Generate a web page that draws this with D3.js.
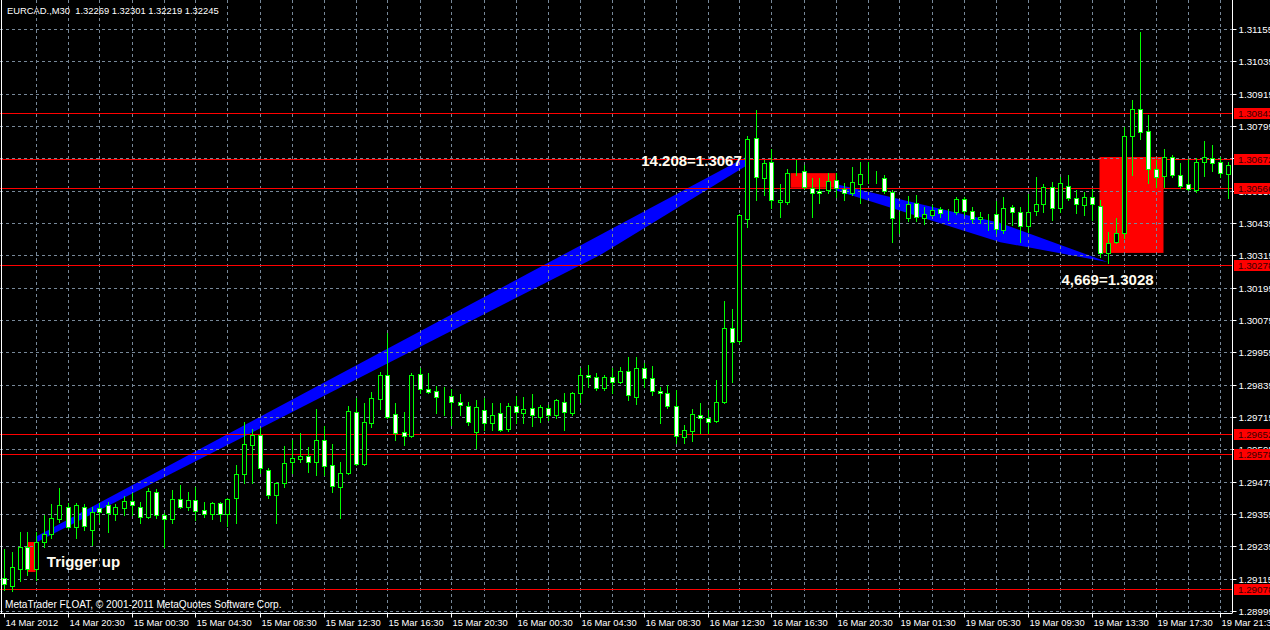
<!DOCTYPE html>
<html><head><meta charset="utf-8">
<script src="https://cdn.jsdelivr.net/npm/d3@7"></script>
<style>html,body{margin:0;padding:0;background:#000;overflow:hidden}</style>
</head><body>
<svg id="c" width="1270" height="630"></svg>
<script>
const symbolInfo = "EURCAD.,M30  1.32269 1.32301 1.32219 1.32245";
const copyright = "MetaTrader FLOAT, \u00A9 2001-2011 MetaQuotes Software Corp.";

const opens = [1.29117,1.29088,1.29151,1.29232,1.29151,1.29251,1.29281,1.29336,1.29381,1.29307,
1.29381,1.29295,1.29377,1.29388,1.29355,1.29377,1.29403,1.29381,1.29344,1.29436,
1.29351,1.29336,1.29411,1.29381,1.29407,1.29370,1.29355,1.29396,1.29355,1.29414,
1.29503,1.29611,1.29648,1.29518,1.29425,1.29470,1.29548,1.29559,1.29570,1.29548,
1.29629,1.29537,1.29455,1.29507,1.29733,1.29540,1.29693,1.29782,1.29871,1.29726,
1.29659,1.29644,1.29874,1.29819,1.29811,1.29795,1.29793,1.29771,1.29756,1.29659,
1.29741,1.29693,1.29730,1.29670,1.29756,1.29730,1.29748,1.29715,1.29748,1.29722,
1.29771,1.29730,1.29804,1.29871,1.29863,1.29823,1.29863,1.29845,1.29886,1.29789,
1.29897,1.29860,1.29811,1.29804,1.29756,1.29641,1.29663,1.29722,1.29711,1.29700,
1.29771,1.30045,1.29997,1.30450,1.30750,1.30602,1.30661,1.30513,1.30513,1.30621,
1.30628,1.30565,1.30554,1.30557,1.30595,1.30561,1.30546,1.30580,1.30609,1.30613,
1.30602,1.30550,1.30453,1.30453,1.30509,1.30453,1.30465,1.30487,1.30472,1.30476,
1.30524,1.30479,1.30450,1.30461,1.30468,1.30409,1.30494,1.30476,1.30424,1.30479,
1.30505,1.30569,1.30491,1.30572,1.30528,1.30502,1.30531,1.30498,1.30324,1.30364,
1.30398,1.30758,1.30858,1.30776,1.30635,1.30609,1.30680,1.30613,1.30580,1.30557,
1.30661,1.30676,1.30661,1.30617];
const highs = [1.29225,1.29214,1.29288,1.29288,1.29288,1.29351,1.29392,1.29451,1.29396,1.29396,
1.29392,1.29381,1.29396,1.29399,1.29392,1.29422,1.29433,1.29399,1.29451,1.29448,
1.29359,1.29444,1.29462,1.29436,1.29455,1.29399,1.29399,1.29399,1.29414,1.29537,
1.29696,1.29670,1.29674,1.29526,1.29474,1.29607,1.29629,1.29655,1.29604,1.29745,
1.29681,1.29615,1.29548,1.29756,1.29785,1.29767,1.29808,1.29882,1.30027,1.29767,
1.29733,1.29878,1.29897,1.29878,1.29830,1.29826,1.29819,1.29800,1.29771,1.29778,
1.29785,1.29767,1.29767,1.29767,1.29793,1.29789,1.29800,1.29759,1.29759,1.29782,
1.29804,1.29808,1.29897,1.29908,1.29878,1.29871,1.29897,1.29900,1.29938,1.29938,
1.29915,1.29904,1.29826,1.29834,1.29815,1.29685,1.29745,1.29767,1.29741,1.29852,
1.30145,1.30116,1.30468,1.30758,1.30854,1.30669,1.30710,1.30580,1.30635,1.30669,
1.30650,1.30602,1.30602,1.30621,1.30621,1.30583,1.30643,1.30661,1.30661,1.30628,
1.30613,1.30557,1.30476,1.30535,1.30539,1.30494,1.30502,1.30494,1.30487,1.30531,
1.30531,1.30494,1.30476,1.30468,1.30517,1.30531,1.30502,1.30494,1.30543,1.30606,
1.30580,1.30587,1.30606,1.30613,1.30557,1.30550,1.30561,1.30520,1.30402,1.30453,
1.30791,1.30891,1.31144,1.30836,1.30669,1.30710,1.30687,1.30658,1.30672,1.30676,
1.30739,1.30724,1.30680,1.30661];
const lows = [1.29073,1.29069,1.29106,1.29128,1.29110,1.29232,1.29266,1.29325,1.29303,1.29266,
1.29295,1.29240,1.29325,1.29288,1.29333,1.29351,1.29351,1.29321,1.29340,1.29340,
1.29232,1.29321,1.29377,1.29370,1.29333,1.29344,1.29336,1.29329,1.29310,1.29321,
1.29470,1.29470,1.29507,1.29414,1.29321,1.29455,1.29507,1.29548,1.29511,1.29500,
1.29500,1.29436,1.29340,1.29503,1.29537,1.29537,1.29678,1.29745,1.29711,1.29629,
1.29611,1.29641,1.29804,1.29804,1.29730,1.29722,1.29685,1.29722,1.29685,1.29600,
1.29667,1.29667,1.29663,1.29663,1.29693,1.29693,1.29681,1.29696,1.29704,1.29711,
1.29667,1.29722,1.29771,1.29826,1.29815,1.29815,1.29804,1.29841,1.29778,1.29763,
1.29826,1.29797,1.29693,1.29748,1.29618,1.29618,1.29626,1.29655,1.29655,1.29696,
1.29768,1.29845,1.29990,1.30420,1.30520,1.30539,1.30491,1.30457,1.30505,1.30613,
1.30561,1.30457,1.30509,1.30546,1.30531,1.30520,1.30539,1.30509,1.30583,1.30583,
1.30546,1.30364,1.30398,1.30442,1.30442,1.30431,1.30461,1.30457,1.30446,1.30468,
1.30465,1.30439,1.30435,1.30409,1.30398,1.30398,1.30428,1.30364,1.30402,1.30465,
1.30476,1.30446,1.30476,1.30520,1.30472,1.30465,1.30446,1.30309,1.30286,1.30361,
1.30379,1.30613,1.30747,1.30583,1.30569,1.30569,1.30606,1.30565,1.30557,1.30550,
1.30609,1.30628,1.30606,1.30528];
const closes = [1.29095,1.29158,1.29232,1.29151,1.29251,1.29281,1.29340,1.29388,1.29307,1.29388,
1.29310,1.29362,1.29362,1.29359,1.29381,1.29403,1.29388,1.29344,1.29440,1.29351,
1.29336,1.29411,1.29381,1.29407,1.29366,1.29355,1.29396,1.29355,1.29411,1.29503,
1.29615,1.29648,1.29526,1.29425,1.29470,1.29544,1.29563,1.29570,1.29548,1.29629,
1.29533,1.29459,1.29507,1.29737,1.29540,1.29696,1.29785,1.29871,1.29715,1.29655,
1.29644,1.29871,1.29819,1.29808,1.29789,1.29795,1.29771,1.29759,1.29696,1.29752,
1.29693,1.29722,1.29667,1.29756,1.29733,1.29745,1.29722,1.29752,1.29722,1.29778,
1.29733,1.29804,1.29871,1.29863,1.29823,1.29863,1.29845,1.29886,1.29797,1.29897,
1.29860,1.29811,1.29804,1.29756,1.29644,1.29667,1.29726,1.29711,1.29696,1.29771,
1.30045,1.29993,1.30465,1.30747,1.30606,1.30658,1.30520,1.30520,1.30621,1.30621,
1.30569,1.30546,1.30546,1.30591,1.30565,1.30546,1.30587,1.30617,1.30609,1.30613,
1.30554,1.30453,1.30453,1.30505,1.30457,1.30468,1.30483,1.30472,1.30472,1.30524,
1.30479,1.30450,1.30457,1.30461,1.30413,1.30491,1.30476,1.30424,1.30476,1.30505,
1.30569,1.30491,1.30583,1.30528,1.30505,1.30531,1.30505,1.30324,1.30361,1.30398,
1.30758,1.30858,1.30773,1.30635,1.30606,1.30680,1.30613,1.30572,1.30561,1.30661,
1.30680,1.30658,1.30621,1.30650];

// time axis labels, one every 8 bars
const timeLabels = ["14 Mar 2012","14 Mar 20:30","15 Mar 00:30","15 Mar 04:30","15 Mar 08:30",
"15 Mar 12:30","15 Mar 16:30","15 Mar 20:30","16 Mar 00:30","16 Mar 04:30","16 Mar 08:30",
"16 Mar 12:30","16 Mar 16:30","16 Mar 20:30","19 Mar 01:30","19 Mar 05:30","19 Mar 09:30",
"19 Mar 13:30","19 Mar 17:30","19 Mar 21:30"];
const priceTicks = [1.31155,1.31035,1.30915,1.30795,1.30675,1.30555,1.30435,1.30315,1.30195,
1.30075,1.29955,1.29835,1.29715,1.29595,1.29475,1.29355,1.29235,1.29115,1.28995];
// horizontal level lines
const levelPrices = [1.30843,1.30672,1.30566,1.30278,1.29652,1.29578,1.29078];
// rectangle objects
const rectFrom = [3, 98.4, 137];
const rectTo = [4, 104, 145];
const rectTop = [1.29251, 1.30620, 1.30680];
const rectBottom = [1.29140, 1.30566, 1.30324];
// band objects (bar, price) outlines
const band1Bars = [4.2, 92.8, 92.8, 74.6, 4.2];
const band1Prices = [1.29273, 1.30680, 1.30647, 1.30316, 1.29251];
const band2Bars = [104, 124.6, 138, 124.6, 104];
const band2Prices = [1.30580, 1.30435, 1.30290, 1.30364, 1.30557];
// text objects
const noteText = ["Trigger up", "14.208=1.3067", "4,669=1.3028"];
const noteBar = [10, 86, 138];
const notePrice = [1.29180, 1.30668, 1.30227];

const W = 1270, H = 630;
const plotRight = 1232, plotBottom = 613;
const svg = d3.select("#c");
svg.append("rect").attr("width", W).attr("height", H).attr("fill", "#000");

const nBars = opens.length;
const x = d3.scaleLinear().domain([0, nBars - 1]).range([3.5, 3.5 + 8 * (nBars - 1)]);
const y = d3.scaleLinear().domain([1.28995, 1.31155]).range([611, 29]);
const py = v => Math.round(y(v)) + 0.5;

const font = "'Liberation Sans', Arial, sans-serif";
const gridColor = "#778899";

svg.append("clipPath").attr("id","pc").append("rect").attr("x",0).attr("y",0).attr("width",plotRight).attr("height",plotBottom);
const plot = svg.append("g").attr("clip-path","url(#pc)");

// background objects: rectangles
rectFrom.forEach((f, i) => {
  const x0 = x(f), x1 = x(rectTo[i]);
  const y0 = y(rectTop[i]), y1 = y(rectBottom[i]);
  plot.append("rect").attr("x", x0).attr("y", y0).attr("width", x1 - x0).attr("height", y1 - y0).attr("fill", "#ff0000");
});
// bands
function band(bars, prices) {
  const pts = bars.map((b, i) => [x(b), y(prices[i])]);
  plot.append("path").attr("d", d3.line()(pts) + "Z").attr("fill", "#0000ff");
}
band(band1Bars, band1Prices);
band(band2Bars, band2Prices);

// grid
const gridBars = d3.range(4, nBars, 4);
plot.append("g").selectAll("line").data(gridBars).join("line")
  .attr("x1", d => Math.round(x(d)) + 0.5).attr("x2", d => Math.round(x(d)) + 0.5)
  .attr("y1", 0).attr("y2", plotBottom)
  .attr("stroke", gridColor).attr("stroke-width", 1).attr("stroke-dasharray", "3,3");
plot.append("g").selectAll("line").data(priceTicks).join("line")
  .attr("x1", 0).attr("x2", plotRight)
  .attr("y1", d => py(d)).attr("y2", d => py(d))
  .attr("stroke", gridColor).attr("stroke-width", 1).attr("stroke-dasharray", "3,3");

// level lines
plot.append("g").selectAll("line").data(levelPrices).join("line")
  .attr("x1", 0).attr("x2", plotRight)
  .attr("y1", d => py(d)).attr("y2", d => py(d))
  .attr("stroke", "#ff0000").attr("stroke-width", 1);

// candles
const bars = d3.range(nBars);
const cg = plot.append("g");
cg.selectAll("line").data(bars).join("line")
  .attr("x1", i => Math.round(x(i)) + 0.5).attr("x2", i => Math.round(x(i)) + 0.5)
  .attr("y1", i => py(highs[i]) - 0.5).attr("y2", i => py(lows[i]) + 0.5)
  .attr("stroke", "#00ff00").attr("stroke-width", 1);
cg.selectAll("rect").data(bars).join("rect")
  .attr("x", i => Math.round(x(i)) - 1.5)
  .attr("width", 4)
  .attr("y", i => py(Math.max(opens[i], closes[i])))
  .attr("height", i => py(Math.min(opens[i], closes[i])) - py(Math.max(opens[i], closes[i])))
  .attr("fill", i => closes[i] < opens[i] ? "#ffffff" : "#000000")
  .attr("stroke", "#00ff00").attr("stroke-width", 1);

// text objects
noteText.forEach((t, i) => {
  plot.append("text").attr("x", x(noteBar[i])).attr("y", y(notePrice[i]))
    .attr("text-anchor", "middle").attr("dominant-baseline", "central")
    .attr("font-family", font).attr("font-weight", "bold").attr("font-size", 15)
    .attr("fill", "#fffcef").text(t);
});

// header & footer
svg.append("text").attr("x", 7).attr("y", 14).attr("fill", "#fff").style("white-space", "pre")
  .attr("font-family", font).attr("font-size", 9.4).text(symbolInfo);
svg.append("text").attr("x", 5).attr("y", 608).attr("fill", "#fff")
  .attr("font-family", font).attr("font-size", 10.1).text(copyright);

// frame
svg.append("line").attr("x1", 1.5).attr("x2", 1.5).attr("y1", 0).attr("y2", plotBottom + 0.5).attr("stroke", "#fff");

// right axis
const yAxis = d3.axisRight(y).tickValues(priceTicks).tickFormat(d3.format(".5f")).tickSize(4).tickPadding(2);
const ya = svg.append("g").attr("transform", `translate(${plotRight + 0.5},0)`).call(yAxis);
ya.select(".domain").attr("stroke", "#fff").attr("d", `M0,0V${plotBottom}`);
ya.selectAll(".tick").attr("transform", d => `translate(0,${py(d)})`);
ya.selectAll(".tick line").attr("stroke", "#fff");
ya.selectAll(".tick text").attr("fill", "#fff").attr("font-family", font).attr("font-size", 9.8);

// level labels on axis
const lv = svg.append("g");
levelPrices.forEach(p => {
  const yy = py(p);
  lv.append("rect").attr("x", plotRight + 2).attr("y", yy - 5.5).attr("width", W - plotRight - 2).attr("height", 11).attr("fill", "#ff0000");
  lv.append("text").attr("x", plotRight + 6).attr("y", yy).attr("dy", "0.35em")
    .attr("fill", "#3a0000").attr("font-family", font).attr("font-size", 9.8).text(d3.format(".5f")(p));
});

// bottom axis
const tickBars = timeLabels.map((t, i) => i * 8);
const xAxis = d3.axisBottom(x).tickValues(tickBars).tickFormat((d, i) => timeLabels[i]).tickSize(4).tickPadding(2);
const xa = svg.append("g").attr("transform", `translate(0,${plotBottom + 0.5})`).call(xAxis);
xa.select(".domain").attr("stroke", "#fff").attr("d", `M0,0H${plotRight + 0.5}`);
xa.selectAll(".tick").attr("transform", d => `translate(${Math.round(x(d)) + 0.5},0)`);
xa.selectAll(".tick line").attr("stroke", "#fff");
xa.selectAll(".tick text").attr("fill", "#fff").attr("font-family", font).attr("font-size", 9.4)
  .attr("text-anchor", "start").attr("x", 1);
</script>
</body></html>
